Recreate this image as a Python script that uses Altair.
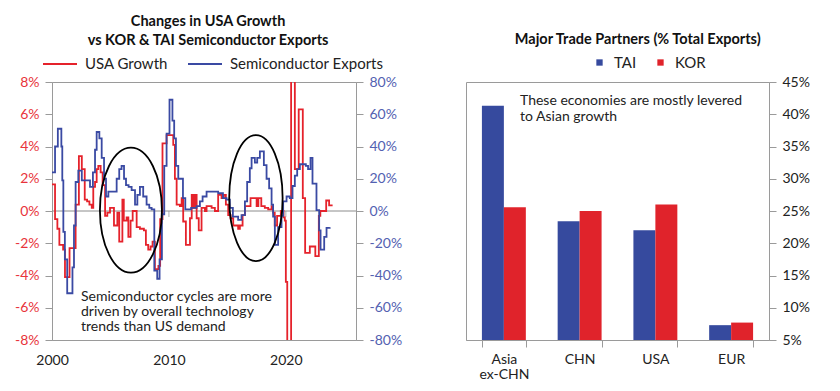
import altair as alt
import pandas as pd

# ---------------- data ----------------
usa_years = [2000.0, 2000.26, 2000.46, 2000.63, 2000.95, 2001.11, 2001.5, 2002.02, 2002.3, 2002.55,
             2002.8, 2003.0, 2003.2, 2003.4, 2003.53, 2003.68, 2003.82, 2003.96, 2004.16, 2004.33,
             2004.54, 2004.73, 2004.96, 2005.3, 2005.59, 2005.75, 2006.02, 2006.14, 2006.38, 2006.53,
             2006.72, 2006.9, 2007.24, 2007.52, 2007.86, 2008.03, 2008.23, 2008.43, 2008.6, 2008.8,
             2009.1, 2009.25, 2009.45, 2009.8, 2010.37, 2010.51, 2010.66, 2010.94, 2011.09, 2011.22,
             2011.45, 2011.8, 2011.95, 2012.08, 2012.22, 2012.37, 2012.55, 2012.79, 2013.08, 2013.22,
             2013.65, 2013.93, 2014.21, 2014.5, 2014.7, 2014.87, 2015.07, 2015.27, 2015.5, 2015.92,
             2016.07, 2016.3, 2016.5, 2016.98, 2017.5, 2017.65, 2017.9, 2018.2, 2018.49, 2018.78,
             2018.91, 2019.05, 2019.25, 2019.57, 2019.8, 2019.91, 2020.0, 2020.12, 2020.45, 2020.77,
             2021.1, 2021.45, 2021.65, 2022.05, 2022.52, 2022.82, 2022.95, 2023.45, 2023.7, 2024.0]
usa_vals = [1.65, -0.5, -1.1, -2.1, -2.4, -4.1, -2.3, 0.4, 3.4, 2.6,
            0.7, 0.6, 0.4, 0.2, 1.5, 1.8, 2.6, 2.8, 2.4, 1.6,
            -0.3, -0.1, 0.2, -0.9, -0.1, -1.9, 0.7, -0.6, -0.4, -1.6,
            -0.6, 0.0, -1.0, -1.1, -1.2, -2.1, -2.4, -2.2, -1.9, -3.6,
            -3.4, -0.5, 4.2, 4.7, 4.1, 2.0, 0.4, 0.3, 0.8, -0.65,
            -2.1, -0.45, 1.0, 0.2, 1.0, -0.45, -1.2, 0.2, 0.0, 0.3,
            0.2, 0.0, 1.0, 0.8, 1.0, 0.4, -0.25, -0.45, -0.9, -1.1,
            -0.9, -0.25, 0.3, 0.8, 0.3, 0.8, 0.3, 0.2, 0.1, 0.3,
            -0.1, -0.9, -0.3, 0.0, -0.4, -0.6, -4.4, -30.0, 33.0, 2.6,
            6.3, 0.8, -2.6, -2.2, -2.8, -0.3, 0.0, 0.65, 0.35, 0.35]

semi_years = [2000.0, 2000.26, 2000.5, 2000.8, 2000.88, 2000.97, 2001.1, 2001.3, 2001.75, 2001.88,
              2002.02, 2002.25, 2002.55, 2003.25, 2003.5, 2003.68, 2003.82, 2004.05, 2004.25, 2004.45,
              2004.62, 2004.82, 2005.53, 2005.75, 2005.95, 2006.16, 2006.33, 2006.55, 2006.81, 2007.1,
              2007.3, 2007.52, 2007.8, 2008.09, 2008.32, 2008.52, 2008.75, 2009.0, 2009.2, 2009.4,
              2009.6, 2009.8, 2010.05, 2010.3, 2010.45, 2010.6, 2010.8, 2011.2, 2011.4, 2011.9,
              2012.37, 2012.65, 2012.88, 2013.22, 2014.21, 2014.62, 2014.93, 2015.21, 2015.47, 2015.92,
              2016.21, 2016.5, 2016.69, 2016.92, 2017.07, 2017.35, 2017.55, 2017.78, 2018.12, 2018.35,
              2018.57, 2018.78, 2018.91, 2019.06, 2019.34, 2019.63, 2019.77, 2020.06, 2020.34, 2020.57,
              2020.77, 2020.97, 2021.2, 2021.71, 2021.9, 2022.11, 2022.28, 2022.62, 2022.85, 2022.97,
              2023.28, 2023.48, 2023.75]
semi_vals = [24, 40, 51, 40, 19, -13, -30, -51, -35, -9,
             18, 25, 19, 15, 24, 38, 49, 45, 33, 20,
             9, 12, 20, 26, 28, 20, 16, 15, 13, 4,
             10, 15, 9, 4, 2, 1, -37, -42, -30, -2,
             28, 48, 69, 56, 45, 28, 20, 8, 1, 2,
             3, 6, 9, 12, 11, 8, 7, 2, -3.5, -5.5,
             -2.5, 6, 18, 26.5, 33, 30, 33, 37, 28.5, 20,
             14, 4, -3.5, -21, -10, -3, 6, 9, 8, 15.5,
             22, 26, 29, 28, 26, 33, 17, 0.5, -12, -24,
             -16, -10.5, -10]

partners = ["Asia ex-CHN", "CHN", "USA", "EUR"]
tai_share = [41.3, 23.4, 22.0, 7.3]
kor_share = [25.6, 25.0, 26.0, 7.7]

left_ticks = [-8, -6, -4, -2, 0, 2, 4, 6, 8]
right_ticks = [-80, -60, -40, -20, 0, 20, 40, 60, 80]
year_ticks = [2000, 2010, 2020]
share_ticks = [5, 10, 15, 20, 25, 30, 35, 40, 45]

# ---------------- styling ----------------
FONT = "Lato"
RED = "#e5222b"
BLUE = "#3a4aa3"
BAR_BLUE = "#364a9e"
BAR_RED = "#e0232b"
GRAY = "#9a9a9a"
TXT = "#222222"

usa_df = pd.DataFrame({"year": usa_years, "val": usa_vals, "series": "USA Growth"})
semi_df = pd.DataFrame({"year": semi_years, "val": semi_vals, "series": "Semiconductor Exports"})

xenc = alt.X("year:Q", title=None,
             scale=alt.Scale(domain=[2000, 2026], nice=False, zero=False),
             axis=alt.Axis(values=year_ticks, format="d", ticks=False, grid=False,
                           labelFlush=False, domainColor=GRAY, labelFont=FONT, labelFontSize=14,
                           labelColor=TXT, labelPadding=13))


def yl(field):
    return alt.Y(field, type="quantitative", title=None,
                 scale=alt.Scale(domain=[-8, 8], nice=False),
                 axis=alt.Axis(orient="left", values=left_ticks, labelExpr="datum.value + '%'",
                               grid=False, domainColor=GRAY, tickColor=GRAY, tickSize=7,
                               labelPadding=6, labelFont=FONT, labelFontSize=14,
                               labelColor="#e8333b"))


def yr(field):
    return alt.Y(field, type="quantitative", title=None,
                 scale=alt.Scale(domain=[-80, 80], nice=False),
                 axis=alt.Axis(orient="right", values=right_ticks, labelExpr="datum.value + '%'",
                               grid=False, domainColor=GRAY, tickColor=GRAY, tickSize=7,
                               labelPadding=6, labelFont=FONT, labelFontSize=14,
                               labelColor="#5361b1"))


color = alt.Color("series:N",
                  scale=alt.Scale(domain=["USA Growth", "Semiconductor Exports"], range=[RED, BLUE]),
                  legend=alt.Legend(title=None, orient="none", legendX=-10, legendY=-36,
                                    direction="horizontal", columns=2, gridAlign="none",
                                    symbolType="stroke",
                                    symbolSize=1156, symbolStrokeWidth=2, labelFont=FONT,
                                    labelFontSize=15, labelColor=TXT, columnPadding=16,
                                    labelOffset=7, padding=0))

zero_rule = alt.Chart(pd.DataFrame({"z": [0]})).mark_rule(color="#8c8c8c", strokeWidth=1).encode(
    y=yl("z"))
zero_ticks = alt.Chart(pd.DataFrame({"year": [2010, 2020], "z": [0, 0]})).mark_tick(
    orient="vertical", size=6, thickness=1, color="#8c8c8c", yOffset=3).encode(x=xenc, y=yl("z"))
red_line = alt.Chart(usa_df).mark_line(interpolate="step-after", strokeWidth=1.8, clip=True).encode(
    x=xenc, y=yl("val"), color=color)

blue_line = alt.Chart(semi_df).mark_line(interpolate="step-after", strokeWidth=1.8, clip=True).encode(
    x=xenc, y=yr("val"), color=color)

ell1_path = "M -0.496 0 A 0.496 1 0 1 0 0.496 0 A 0.496 1 0 1 0 -0.496 0 Z"
ell2_path = "M -0.424 0 A 0.424 1 0 1 0 0.424 0 A 0.424 1 0 1 0 -0.424 0 Z"
ell1 = alt.Chart(pd.DataFrame({"year": [2006.75], "val": [0.5]})).mark_point(
    shape=ell1_path, size=15625, filled=False, stroke="black", strokeWidth=1.8, opacity=1).encode(
    x=xenc, y=yr("val"))
ell2 = alt.Chart(pd.DataFrame({"year": [2017.44], "val": [8]})).mark_point(
    shape=ell2_path, size=15876, filled=False, stroke="black", strokeWidth=1.8, opacity=1).encode(
    x=xenc, y=yr("val"))
note_left = alt.Chart(pd.DataFrame({
    "year": [2002.48], "val": [-49],
    "t": ["Semiconductor cycles are more\ndriven by overall technology\ntrends than US demand"]})).mark_text(
    align="left", baseline="top", lineBreak="\n", lineHeight=15, font=FONT, fontSize=14,
    color=TXT).encode(x=xenc, y=yr("val"), text="t:N")

left = alt.layer(
    alt.layer(zero_rule, zero_ticks, red_line),
    alt.layer(blue_line, ell1, ell2, note_left),
).resolve_scale(y="independent").properties(
    width=304, height=258,
    title=alt.TitleParams(text=["Changes in USA Growth", "vs KOR & TAI Semiconductor Exports"],
                          font=FONT, fontSize=14.5, fontWeight="bold", color="#111",
                          anchor="middle", frame="bounds", lineHeight=19, offset=-2))

# ---------------- right chart ----------------
bar_rows = []
for c, t, k in zip(partners, tai_share, kor_share):
    bar_rows.append({"cat": c, "country": "TAI", "share": t})
    bar_rows.append({"cat": c, "country": "KOR", "share": k})
bars_df = pd.DataFrame(bar_rows)

bars = alt.Chart(bars_df).mark_bar().encode(
    x=alt.X("cat:N", sort=partners, title=None,
            scale=alt.Scale(paddingInner=0.42, paddingOuter=0.21),
            axis=alt.Axis(labelAngle=0, tickBand="extent", tickSize=7, tickColor=GRAY,
                          domainColor=GRAY, labelExpr="split(datum.label, ' ')",
                          labelFont=FONT, labelFontSize=14, labelColor=TXT, labelPadding=5,
                          labelLineHeight=15)),
    xOffset=alt.XOffset("country:N", sort=["TAI", "KOR"]),
    y=alt.Y("share:Q", title=None, scale=alt.Scale(domain=[5, 45], nice=False, zero=False),
            axis=alt.Axis(orient="right", values=share_ticks, labelExpr="datum.value + '%'",
                          grid=False, domainColor=GRAY, tickColor=GRAY, tickSize=7,
                          labelPadding=6, labelFont=FONT, labelFontSize=14, labelColor=TXT)),
    y2=alt.datum(5),
    color=alt.Color("country:N", scale=alt.Scale(domain=["TAI", "KOR"], range=[BAR_BLUE, BAR_RED]),
                    legend=alt.Legend(title=None, orient="none", legendX=126, legendY=-27,
                                      direction="horizontal", columns=2, gridAlign="none",
                                      symbolType="square",
                                      symbolSize=40, symbolStrokeWidth=0, labelFont=FONT,
                                      labelFontSize=15, labelColor=TXT, columnPadding=16,
                                      labelOffset=7, padding=0)),
)
note_right = alt.Chart(pd.DataFrame({
    "t": ["These economies are mostly levered\nto Asian growth"]})).mark_text(
    align="left", baseline="top", lineBreak="\n", lineHeight=16, font=FONT, fontSize=14,
    color=TXT).encode(x=alt.value(54), y=alt.value(12), text="t:N")

right = alt.layer(bars, note_right).properties(
    width=303, height=258,
    title=alt.TitleParams(text="Major Trade Partners (% Total Exports)",
                          font=FONT, fontSize=14.5, fontWeight="bold", color="#111",
                          anchor="middle", frame="bounds", offset=8))

chart = alt.hconcat(left, right, spacing=62).resolve_scale(color="independent").configure_view(
    stroke=GRAY)

chart.save("out.html", embed_options={"renderer": "svg", "actions": False})
